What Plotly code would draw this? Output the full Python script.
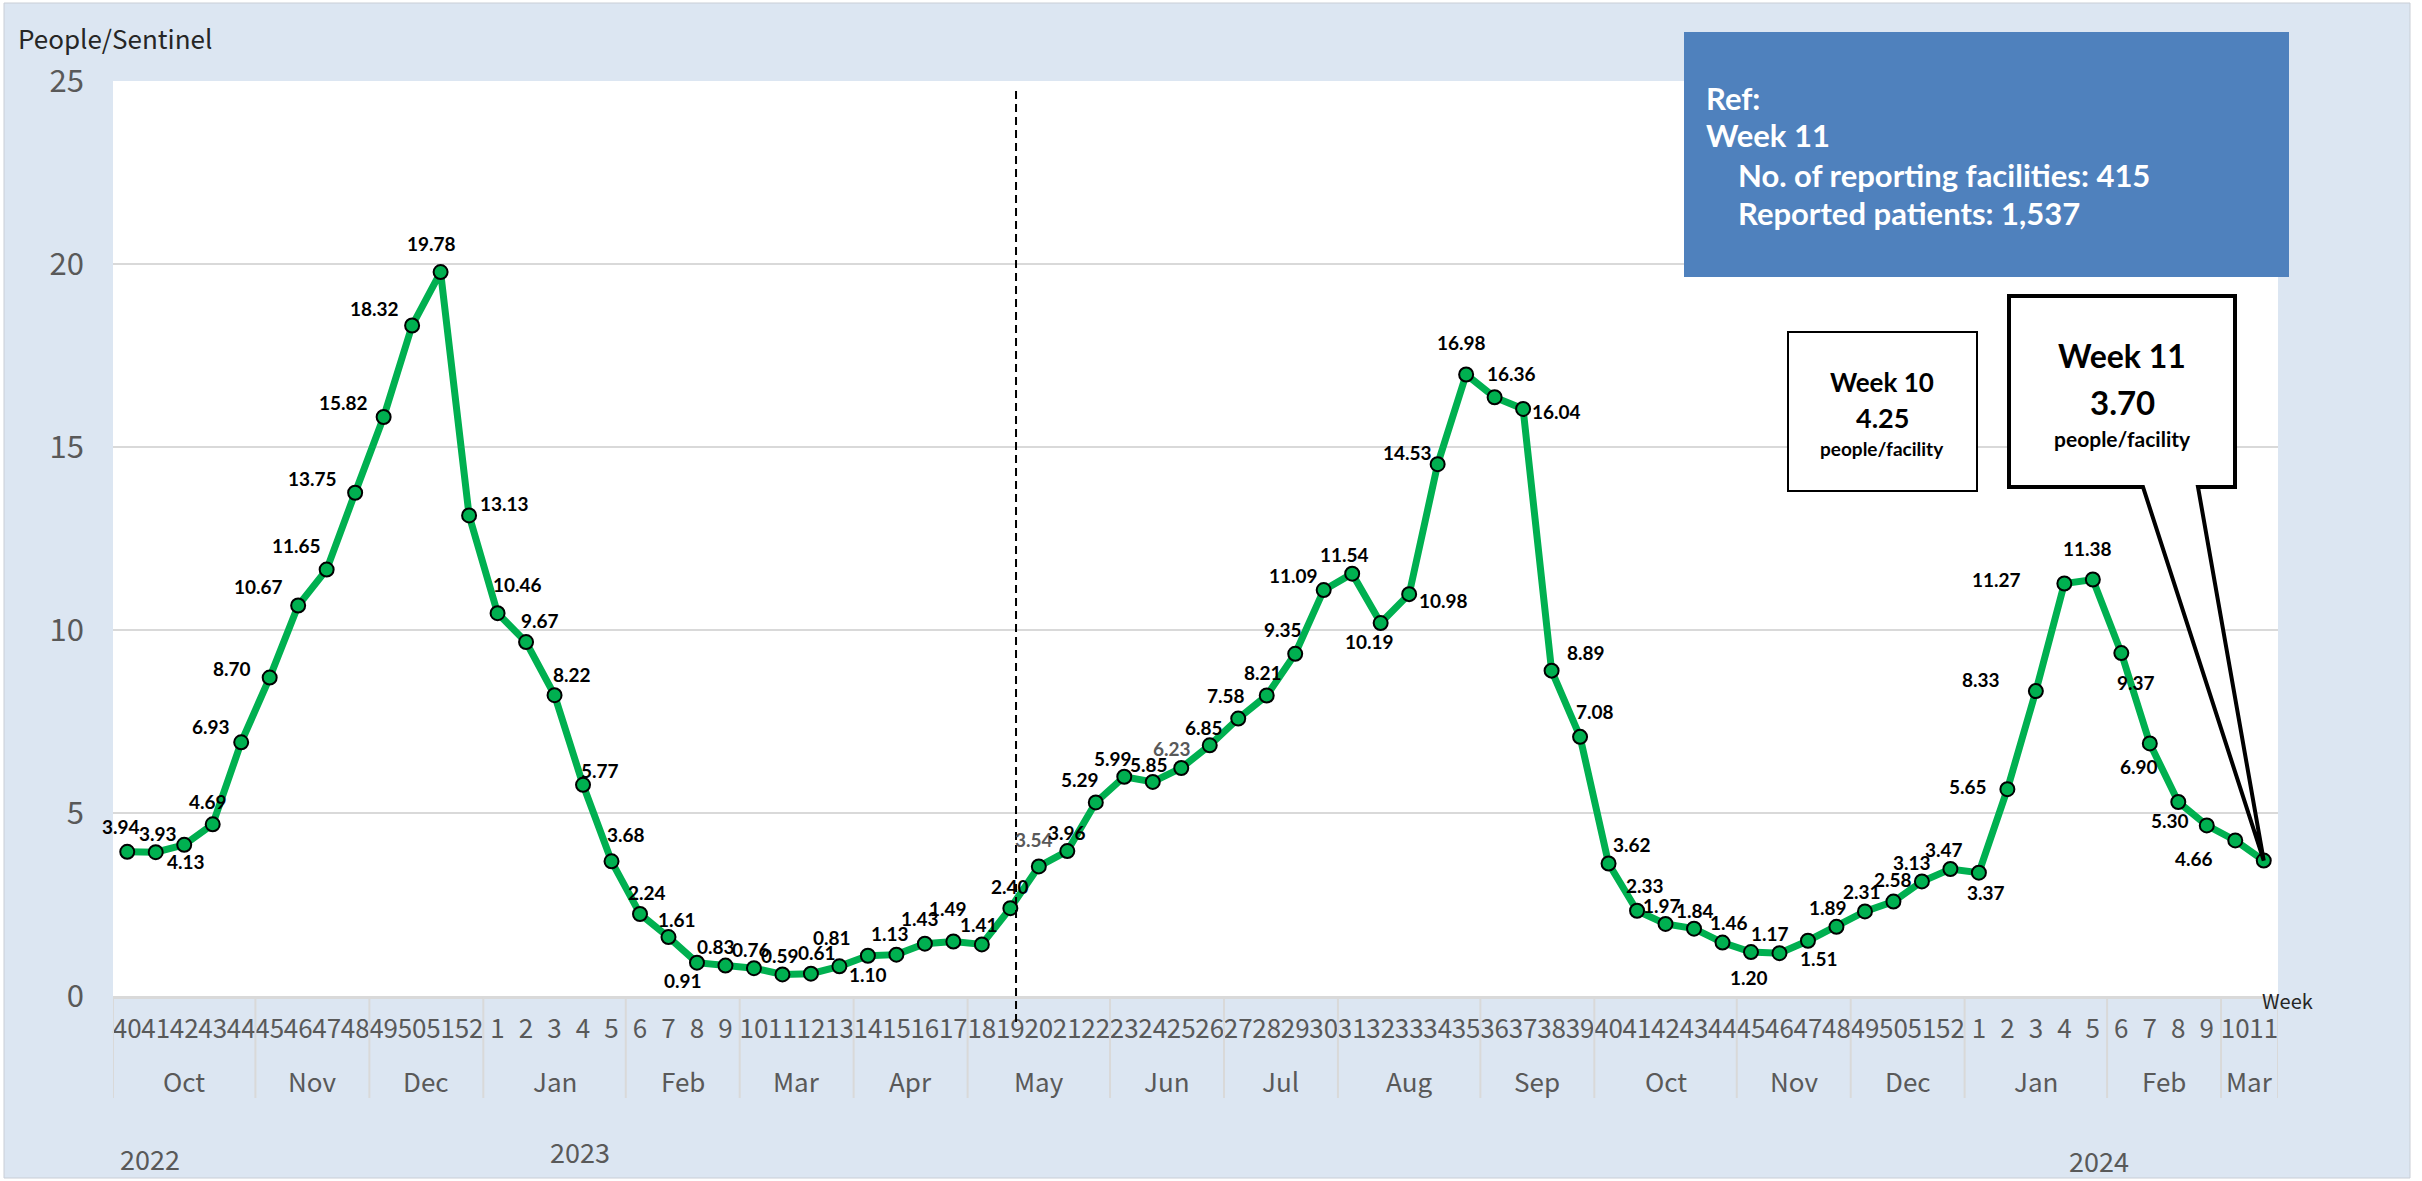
import plotly.graph_objects as go

# ---------------- data ----------------
week_labels = [str(w) for w in range(40, 53)] + [str(w) for w in range(1, 53)] + [str(w) for w in range(1, 12)]
values = [
    3.94, 3.93, 4.13, 4.69, 6.93, 8.70, 10.67, 11.65, 13.75, 15.82, 18.32, 19.78, 13.13,
    10.46, 9.67, 8.22, 5.77, 3.68, 2.24, 1.61, 0.91, 0.83, 0.76, 0.59, 0.61, 0.81,
    1.10, 1.13, 1.43, 1.49, 1.41, 2.40, 3.54, 3.96, 5.29, 5.99, 5.85, 6.23, 6.85,
    7.58, 8.21, 9.35, 11.09, 11.54, 10.19, 10.98, 14.53, 16.98, 16.36, 16.04, 8.89,
    7.08, 3.62, 2.33, 1.97, 1.84, 1.46, 1.20, 1.17, 1.51, 1.89, 2.31, 2.58, 3.13, 3.47,
    3.37, 5.65, 8.33, 11.27, 11.38, 9.37, 6.90, 5.30, 4.66, 4.25, 3.70,
]
month_names = ["Oct", "Nov", "Dec", "Jan", "Feb", "Mar", "Apr", "May", "Jun", "Jul",
               "Aug", "Sep", "Oct", "Nov", "Dec", "Jan", "Feb", "Mar"]
month_weeks = [5, 4, 4, 5, 4, 4, 4, 5, 4, 4, 5, 4, 5, 4, 4, 5, 4, 2]
years = ["2022", "2023", "2024"]
y_ticks = [0, 5, 10, 15, 20, 25]
ref_week = "Week 11"
ref_facilities = "415"
ref_patients = "1,537"

# ---------------- styling / placement (pixels) ----------------
W, H = 2422, 1181
L, R, T, B = 113, 2278, 81, 996
XMIN, XMAX = -0.5, len(values) - 0.5
YMAX = 25


def px(x):
    return (x - L) / (R - L)


def py(y):
    return (B - y) / (B - T)


# label offsets (dx, dy) in screen pixels, dy positive = down; None = no label
label_offsets = [
    (-6, -25), (2, -19), (2, 17), (-5, -23), (-30, -16), (-38, -9), (-40, -19), (-30, -24),
    (-43, -14), (-40, -14), (-38, -17), (-9, -29), (35, -12),
    (20, -29), (14, -22), (17, -21), (17, -14), (14, -27), (7, -22), (9, -18), (-14, 18),
    (-9, -19), (-3, -19), (-2, -19), (6, -21), (-7, -29), (0, 19), (-6, -21), (-5, -25),
    (-5, -33), (-3, -20), (0, -22), (-5, -27), (0, -19), (-16, -23), (-11, -18), (-4, -17),
    (-9, -19), (-6, -18), (-12, -23), (-4, -23), (-12, -24), (-30, -15), (-8, -19), (-11, 18),
    (34, 6), (-30, -12), (-5, -32), (17, -24), (33, 3), (34, -18), (15, -25), (23, -19),
    (8, -25), (-4, -18), (1, -18), (6, -20), (-2, 25), (-9, -20), (11, 18), (-8, -19),
    (-3, -20), (0, -22), (-10, -19), (-6, -20),
    (7, 20), (-39, -3), (-55, -12), (-68, -4), (-5, -31), (15, 29), (-11, 23), (-8, 18),
    (-13, 33), None, None,
]
grey_label_idx = {32, 37}

GREEN = "#00B050"
GREY_TXT = "#595959"
GRID = "#D9D9D9"
BG_BLUE = "#DCE6F2"
AXIS_FONT = "Noto Sans CJK JP"
LABEL_FONT = "Lato"

fig = go.Figure()

fig.add_trace(go.Scatter(
    x=list(range(len(values))), y=values, mode="lines+markers",
    line=dict(color=GREEN, width=7),
    marker=dict(size=14, color=GREEN, line=dict(color="black", width=2)),
    hoverinfo="skip", showlegend=False,
))

annotations = []
for i, (v, off) in enumerate(zip(values, label_offsets)):
    if off is None:
        continue
    annotations.append(dict(
        x=i, y=v, xref="x", yref="y", text=f"<b>{v:.2f}</b>", showarrow=False,
        xshift=off[0], yshift=-off[1], xanchor="center", yanchor="middle",
        font=dict(family=LABEL_FONT, size=19, color=GREY_TXT if i in grey_label_idx else "black"),
    ))

# month labels and separators
shapes = []
start = 0
bounds = [XMIN]
for name, n in zip(month_names, month_weeks):
    center = start + (n - 1) / 2
    annotations.append(dict(
        x=center, y=py(1080), xref="x", yref="paper", text=name, showarrow=False,
        xanchor="center", yanchor="middle", font=dict(family=AXIS_FONT, size=26, color=GREY_TXT),
    ))
    start += n
    bounds.append(start - 0.5)
for b in bounds:
    shapes.append(dict(type="line", xref="x", yref="paper", x0=b, x1=b, y0=py(997), y1=py(1098),
                       line=dict(color=GRID, width=2), layer="above"))

# year labels
year_x = [0.8, 15.9, 69.2]
year_y = [1158, 1151, 1160]
for yr, xx, yy in zip(years, year_x, year_y):
    annotations.append(dict(
        x=xx, y=py(yy), xref="x", yref="paper", text=yr, showarrow=False,
        xanchor="center", yanchor="middle", font=dict(family=AXIS_FONT, size=27, color=GREY_TXT),
    ))

# axis titles
annotations.append(dict(x=px(16), y=py(37), xref="paper", yref="paper", text="People/Sentinel",
                        showarrow=False, xanchor="left", yanchor="middle",
                        font=dict(family=AXIS_FONT, size=26, color="#262626")))
annotations.append(dict(x=px(2287), y=py(1000), xref="paper", yref="paper", text="Week",
                        showarrow=False, xanchor="center", yanchor="middle",
                        font=dict(family=AXIS_FONT, size=20, color="#262626")))

# thin white frame around the light-blue chart panel
frame = [(0, 4, 0, H), (0, W, 0, 3), (2410, W, 0, H), (0, W, 1178, H)]
for x0, x1, y0, y1 in frame:
    shapes.append(dict(type="rect", xref="paper", yref="paper", x0=px(x0), x1=px(x1), y0=py(y0), y1=py(y1),
                       fillcolor="white", line=dict(width=0), layer="above"))
shapes.append(dict(type="rect", xref="paper", yref="paper", x0=px(4), x1=px(2410), y0=py(3), y1=py(1178),
                   fillcolor="rgba(0,0,0,0)", line=dict(color="#C9CED6", width=1), layer="above"))

# dashed reference line
shapes.append(dict(type="line", xref="x", yref="paper", x0=31.2, x1=31.2, y0=py(1022), y1=py(88),
                   line=dict(color="black", width=2, dash="8px,5px"), layer="above"))

# blue info box
shapes.append(dict(type="rect", xref="paper", yref="paper", x0=px(1684), x1=px(2289), y0=py(32), y1=py(277),
                   fillcolor="#4F81BD", line=dict(width=0), layer="above"))
info_lines = [("Ref:", 1704, 98), (ref_week, 1704, 135),
              (f"No. of reporting facilities: {ref_facilities}", 1736, 175),
              (f"Reported patients: {ref_patients}", 1736, 213)]
for txt, xx, yy in info_lines:
    annotations.append(dict(x=px(xx), y=py(yy), xref="paper", yref="paper", text=f"<b>{txt}</b>",
                            showarrow=False, xanchor="left", yanchor="middle",
                            font=dict(family=LABEL_FONT, size=31, color="white")))

# week 10 box
shapes.append(dict(type="rect", xref="paper", yref="paper", x0=px(1788), x1=px(1977), y0=py(332), y1=py(491),
                   fillcolor="white", line=dict(color="black", width=2), layer="above"))
w10 = [(f"Week {week_labels[-2]}", 382, 26), (f"{values[-2]:.2f}", 417, 27), ("people/facility", 448, 19)]
for txt, yy, sz in w10:
    annotations.append(dict(x=px(1882), y=py(yy), xref="paper", yref="paper", text=f"<b>{txt}</b>",
                            showarrow=False, xanchor="center", yanchor="middle",
                            font=dict(family=LABEL_FONT, size=sz, color="black")))

# week 11 callout with pointer to last point
tipx = (len(values) - 1 - XMIN) / (XMAX - XMIN)
tipy = values[-1] / YMAX
bx0, bx1, by0, by1 = 2009, 2235, 296, 487
path = (f"M {px(bx0)},{py(by0)} L {px(bx1)},{py(by0)} L {px(bx1)},{py(by1)} "
        f"L {px(2198)},{py(by1)} L {tipx},{tipy} L {px(2143)},{py(by1)} L {px(bx0)},{py(by1)} Z")
shapes.append(dict(type="path", xref="paper", yref="paper", path=path, fillcolor="white",
                   line=dict(color="black", width=4), layer="above"))
w11 = [(f"Week {week_labels[-1]}", 355, 32), (f"{values[-1]:.2f}", 402, 33), ("people/facility", 438, 21)]
for txt, yy, sz in w11:
    annotations.append(dict(x=px(2122), y=py(yy), xref="paper", yref="paper", text=f"<b>{txt}</b>",
                            showarrow=False, xanchor="center", yanchor="middle",
                            font=dict(family=LABEL_FONT, size=sz, color="black")))

fig.update_layout(
    width=W, height=H,
    margin=dict(l=L, r=W - R, t=T, b=H - B, pad=0, autoexpand=False),
    paper_bgcolor=BG_BLUE, plot_bgcolor="white",
    showlegend=False,
    shapes=shapes, annotations=annotations,
    xaxis=dict(range=[XMIN, XMAX], tickmode="array", tickvals=list(range(len(values))),
               ticktext=week_labels, tickangle=0, showgrid=False, zeroline=False,
               showline=True, linecolor=GRID, linewidth=3, ticks="",
               tickfont=dict(family=AXIS_FONT, size=26, color=GREY_TXT),
               ticklabelstandoff=8, fixedrange=True),
    yaxis=dict(range=[0, YMAX], tickmode="array", tickvals=y_ticks, showgrid=True,
               gridcolor=GRID, gridwidth=2, zeroline=False, showline=False, ticks="",
               tickfont=dict(family=AXIS_FONT, size=31, color=GREY_TXT),
               ticklabelstandoff=28, fixedrange=True),
)

fig.write_html("out.html", config={"displayModeBar": False},
               post_script="document.body.style.margin='0';document.body.style.overflow='hidden';")
